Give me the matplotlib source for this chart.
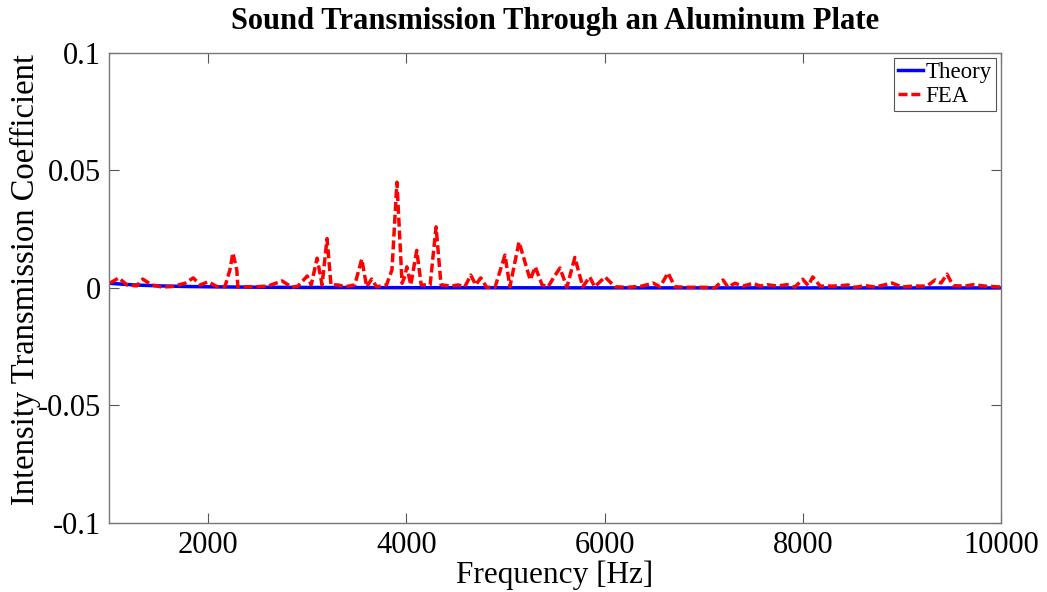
import matplotlib
matplotlib.use("Agg")
import matplotlib.pyplot as plt

plt.rcParams['font.family'] = ['Liberation Serif', 'DejaVu Serif']

# Theoretical (mass-law) transmission coefficient
theory_freq = [1000, 1250, 1500, 1750, 2000, 2500, 3000, 4000, 5000, 6000, 7000, 8000, 9000, 10000]
theory_tau = [0.0020, 0.0013, 0.0009, 0.00065, 0.0005, 0.00032, 0.00022, 0.000125, 0.00008,
              0.000055, 0.00004, 0.00003, 0.000025, 0.00002]

# Finite element results
fea_freq = [1010, 1100, 1180, 1280, 1340, 1430, 1535, 1635, 1767, 1850, 1920, 2000, 2090, 2170,
            2220, 2250, 2290, 2300, 2400, 2473, 2604, 2745, 2846, 2907, 3000, 3040, 3100, 3150,
            3200, 3240, 3310, 3380, 3480, 3550, 3600, 3650, 3700, 3800, 3855, 3905, 3957, 3985,
            4005, 4045, 4105, 4150, 4240, 4300, 4350, 4460, 4520, 4590, 4650, 4700, 4750, 4810,
            4895, 4995, 5045, 5137, 5250, 5300, 5370, 5430, 5490, 5550, 5620, 5700, 5780, 5850,
            5900, 6005, 6105, 6237, 6377, 6490, 6560, 6640, 6710, 6840, 6983, 7115, 7195, 7245,
            7316, 7397, 7500, 7570, 7640, 7740, 7840, 7920, 8000, 8055, 8100, 8175, 8295, 8395,
            8455, 8527, 8628, 8730, 8900, 9000, 9112, 9253, 9335, 9395, 9455, 9515, 9637, 9718,
            9840, 10000]
fea_tau = [0.0021, 0.0043, 0.0013, 0.0009, 0.0038, 0.0013, 0.0004, 0.0006, 0.0020, 0.0043,
           0.0013, 0.0026, 0.0006, 0.0006, 0.0077, 0.0149, 0.0075, 0.0005, 0.0005, 0.0005,
           0.0008, 0.0030, 0.0003, 0.0008, 0.0051, 0.0013, 0.0127, 0.0013, 0.0210, 0.0013,
           0.0013, 0.0005, 0.0013, 0.0123, 0.0005, 0.0038, 0.0005, 0.0013, 0.0077, 0.0450,
           0.0020, 0.0050, 0.0090, 0.0013, 0.0160, 0.0013, 0.0013, 0.0260, 0.0013, 0.0008,
           0.0013, 0.0005, 0.0055, 0.0013, 0.0043, 0.0003, 0.0003, 0.0140, 0.0005, 0.0196,
           0.0034, 0.0090, 0.0013, 0.0005, 0.0047, 0.0085, 0.0003, 0.0130, 0.0005, 0.0047,
           0.0005, 0.0047, 0.0005, 0.0003, 0.0008, 0.0021, 0.0005, 0.0064, 0.0005, 0.0003,
           0.0003, 0.0001, 0.0034, 0.0004, 0.0020, 0.0008, 0.0020, 0.0008, 0.0014, 0.0008,
           0.0014, 0.0004, 0.0037, 0.0010, 0.0047, 0.0008, 0.0008, 0.0010, 0.0013, 0.0003,
           0.0010, 0.0004, 0.0021, 0.0004, 0.0008, 0.0008, 0.0034, 0.0021, 0.0059, 0.0010,
           0.0008, 0.0014, 0.0008, 0.0004]

x_ticks = [2000, 4000, 6000, 8000, 10000]
y_ticks = [-0.1, -0.05, 0, 0.05, 0.1]
y_tick_labels = ['-0.1', '-0.05', '0', '0.05', '0.1']

fig = plt.figure(figsize=(10.47, 5.92), dpi=100)
ax = fig.add_axes([0.1041, 0.1166, 0.8520, 0.7939])

ax.plot(theory_freq, theory_tau, color='#0000ff', linewidth=2.5, label='Theory')
ax.plot(fea_freq, fea_tau, color='#ff0000', linewidth=2.5, linestyle=(0, (2.6, 1.1)), label='FEA')

ax.set_xlim(1000, 10000)
ax.set_ylim(-0.1, 0.1)
ax.set_xticks(x_ticks)
ax.set_xticklabels([str(t) for t in x_ticks])
ax.set_yticks(y_ticks)
ax.set_yticklabels(y_tick_labels)

ax.tick_params(direction='in', length=7, width=0.8, color='#555555',
               top=True, right=True, labelsize=22, pad=6)
for s in ax.spines.values():
    s.set_color('#777777')
    s.set_linewidth(1.0)

ax.set_xlabel('Frequency [Hz]', fontsize=22.5, labelpad=0)
ax.set_ylabel('Intensity Transmission Coefficient', fontsize=23.5)
ax.yaxis.set_label_coords(-0.076, 0.517)
ax.set_title('Sound Transmission Through an Aluminum Plate', fontsize=22,
             fontweight='bold', pad=17)

leg = ax.legend(loc='upper right', fontsize=16.5, handlelength=1.1, handletextpad=0.1,
                borderpad=0.2, labelspacing=0.1, fancybox=False, framealpha=1,
                borderaxespad=0.2)
leg.get_frame().set_edgecolor('#555555')
leg.get_frame().set_linewidth(0.8)

fig.savefig('out.png', dpi=100)
